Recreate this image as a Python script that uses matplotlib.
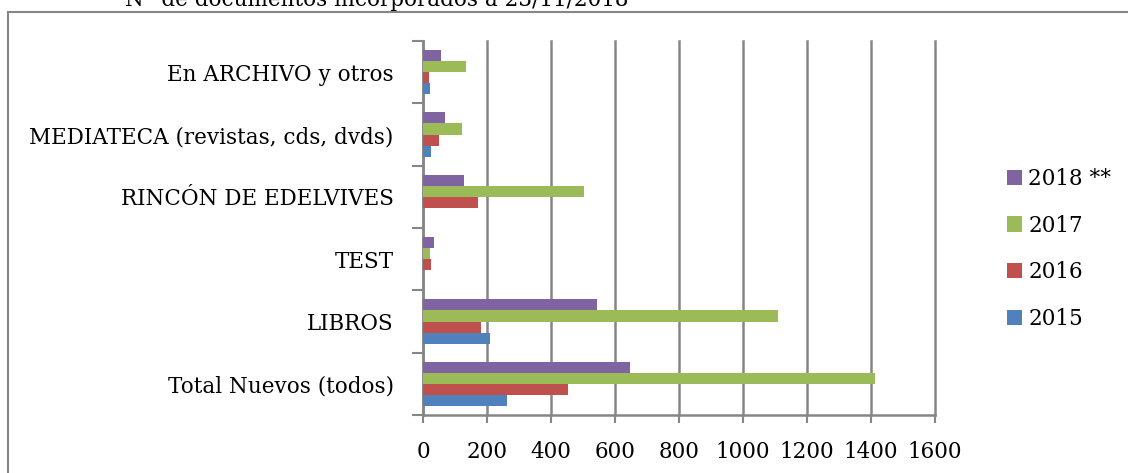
import matplotlib.pyplot as plt
from matplotlib.lines import Line2D
import numpy as np

categories = ['Total Nuevos (todos)', 'LIBROS', 'TEST', 'RINCÓN DE EDELVIVES',
              'MEDIATECA (revistas, cds, dvds)', 'En ARCHIVO y otros']
years = ['2015', '2016', '2017', '2018 **']
v2015 = [263, 210, 0, 1, 26, 23]
v2016 = [453, 180, 26, 173, 51, 18]
v2017 = [1411, 1109, 21, 502, 122, 133]
v2018 = [647, 544, 33, 129, 69, 55]
colors = ['#4F81BD', '#C0504D', '#9BBB59', '#8064A2']

plt.rcParams['font.family'] = 'DejaVu Serif'
fs = 15.5

fig = plt.figure(figsize=(11.28, 4.73), dpi=100)
ax = fig.add_axes([423 / 1128, 1 - 415 / 473, 512 / 1128, 374 / 473])

y = np.arange(len(categories))
h = 0.177
series = [v2015, v2016, v2017, v2018]
bars = []
for i, (vals, c) in enumerate(zip(series, colors)):
    b = ax.barh(y + (i - 1.5) * h, vals, height=h, color=c, zorder=3)
    bars.append(b)

ax.set_xlim(0, 1600)
ax.set_ylim(-0.5, len(categories) - 0.5)
ax.set_xticks(np.arange(0, 1601, 200))
ax.set_yticks(y)
ax.set_yticklabels(categories, fontsize=fs)
ax.set_yticks(np.arange(-0.5, len(categories), 1), minor=True)
ax.tick_params(axis='y', which='major', length=0, pad=21)
ax.tick_params(axis='y', which='minor', length=8, color='#868686', width=1.5)
ax.tick_params(axis='x', length=6, color='#868686', width=1.5, labelsize=fs, pad=13)
ax.grid(axis='x', color='#868686', linewidth=1.8, zorder=0)
for gl in ax.get_xgridlines():
    gl.set_clip_on(False)
for s in ['top', 'right']:
    ax.spines[s].set_visible(False)
for s in ['left', 'bottom']:
    ax.spines[s].set_color('#868686')
    ax.spines[s].set_linewidth(1.8)

leg = fig.legend([bars[3], bars[2], bars[1], bars[0]], years[::-1],
                 loc='upper left', bbox_to_anchor=(996 / 1128, 1 - 157 / 473),
                 frameon=False, fontsize=fs, handlelength=0.7, handleheight=0.7,
                 handletextpad=0.3, labelspacing=1.15, borderpad=0)

fig.text(125 / 1128, 1 - 6 / 473, 'N° de documentos incorporados a 23/11/2018',
         fontsize=fs, va='baseline')

# chart frame (only top and left edges visible)
fig.add_artist(Line2D([8 / 1128, 1], [1 - 12 / 473, 1 - 12 / 473],
                      transform=fig.transFigure, color='#868686', lw=1.5))
fig.add_artist(Line2D([8 / 1128, 8 / 1128], [0, 1 - 12 / 473],
                      transform=fig.transFigure, color='#868686', lw=1.5))

fig.savefig('out.png', dpi=100)
